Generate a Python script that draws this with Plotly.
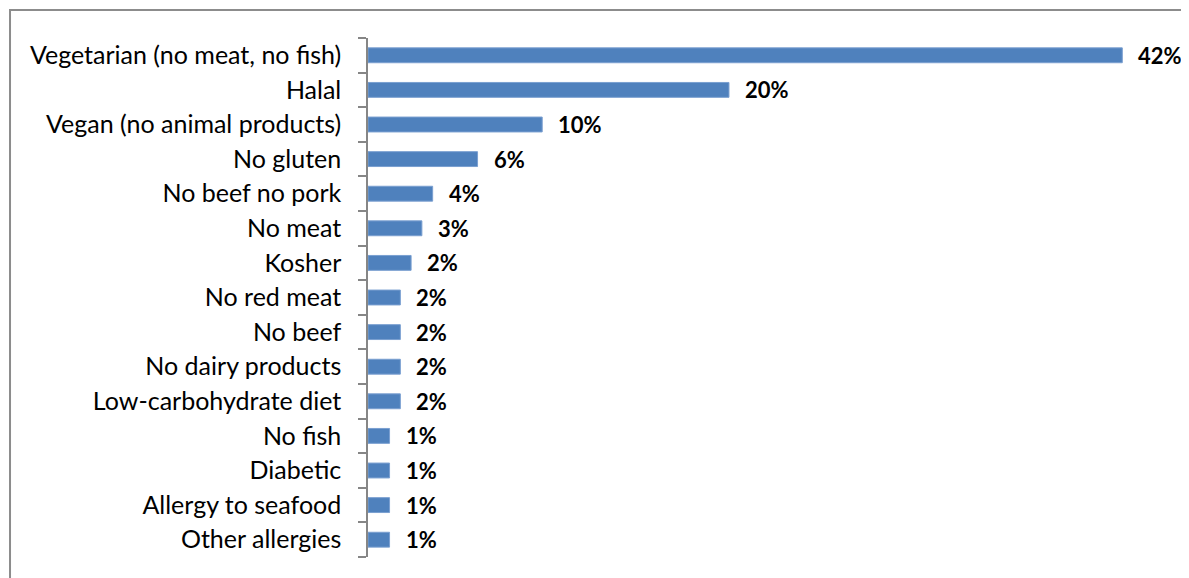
import plotly.graph_objects as go

categories = [
    "Vegetarian (no meat, no fish)",
    "Halal",
    "Vegan (no animal products)",
    "No gluten",
    "No beef no pork",
    "No meat",
    "Kosher",
    "No red meat",
    "No beef",
    "No dairy products",
    "Low-carbohydrate diet",
    "No fish",
    "Diabetic",
    "Allergy to seafood",
    "Other allergies",
]
values = [42.0, 20.1, 9.7, 6.1, 3.6, 3.0, 2.4, 1.8, 1.8, 1.8, 1.8, 1.2, 1.2, 1.2, 1.2]
labels = ["42%", "20%", "10%", "6%", "4%", "3%", "2%", "2%", "2%", "2%", "2%", "1%", "1%", "1%", "1%"]

FONT = "Lato, 'Open Sans', sans-serif"

fig = go.Figure(
    go.Bar(
        x=values,
        y=categories,
        orientation="h",
        width=0.43,
        marker=dict(color="#4F81BD", line=dict(color="#7a9fd0", width=1)),
        hoverinfo="skip",
    )
)

for cat, val, lab in zip(categories, values, labels):
    fig.add_annotation(
        x=val, y=cat, text="<b>%s</b>" % lab, showarrow=False,
        xanchor="left", xshift=14, font=dict(size=22, color="black", family=FONT),
    )

# outer chart frame (only top/left visible in the reference)
fig.add_shape(
    type="rect", xref="paper", yref="paper",
    x0=-0.452, x1=1.2, y0=-0.2, y1=1.054,
    line=dict(color="#8c8c8c", width=2), fillcolor="rgba(0,0,0,0)", layer="below",
)

# page body has an 8px margin, so the figure is drawn 8px smaller
fig.update_layout(
    width=1181,
    height=570,
    margin=dict(l=360, r=29, t=30, b=21),
    plot_bgcolor="white",
    paper_bgcolor="white",
    showlegend=False,
    font=dict(family=FONT, size=25, color="black"),
    bargap=0.57,
)
fig.update_xaxes(range=[0, 44.1], visible=False, showgrid=False, zeroline=False)
fig.update_yaxes(
    categoryorder="array",
    categoryarray=categories[::-1],
    showline=True,
    linecolor="#868686",
    linewidth=1.5,
    ticks="outside",
    tickson="boundaries",
    ticklen=8,
    tickcolor="#868686",
    tickwidth=1.5,
    ticklabelstandoff=20,
    showgrid=False,
    tickfont=dict(size=25, family=FONT, color="black"),
)

fig.write_html("out.html")
